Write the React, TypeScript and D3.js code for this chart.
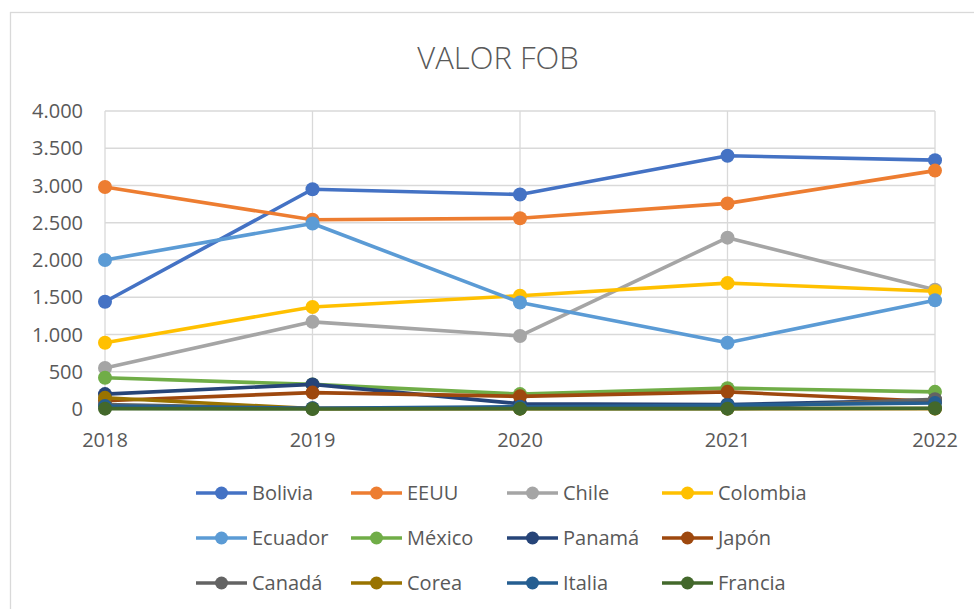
import * as d3 from "d3";
import { useEffect, useRef } from "react";

const years = ["2018", "2019", "2020", "2021", "2022"];
const yTicks = [0, 500, 1000, 1500, 2000, 2500, 3000, 3500, 4000];

const countries = [
  "Bolivia", "EEUU", "Chile", "Colombia",
  "Ecuador", "México", "Panamá", "Japón",
  "Canadá", "Corea", "Italia", "Francia",
];
const colors = [
  "#4472C4", "#ED7D31", "#A5A5A5", "#FFC000",
  "#5B9BD5", "#70AD47", "#264478", "#9E480E",
  "#636363", "#997300", "#255E91", "#43682B",
];

const bolivia = [1440, 2950, 2880, 3400, 3340];
const eeuu = [2980, 2540, 2560, 2760, 3200];
const chile = [550, 1170, 980, 2300, 1600];
const colombia = [890, 1370, 1520, 1690, 1580];
const ecuador = [2000, 2490, 1430, 890, 1460];
const mexico = [420, 330, 200, 280, 230];
const panama = [200, 330, 70, 60, 120];
const japon = [110, 220, 170, 230, 100];
const canada = [60, 10, 10, 20, 130];
const corea = [150, 5, 5, 5, 5];
const italia = [40, 10, 30, 50, 80];
const francia = [5, 0, 5, 5, 10];

const values = [bolivia, eeuu, chile, colombia, ecuador, mexico, panama, japon, canada, corea, italia, francia];

const width = 974;
const height = 609;
const plot = { left: 105, right: 935, top: 111, bottom: 409 };
const font = "'Open Sans', sans-serif";
const textColor = "#595959";

export default function App() {
  const ref = useRef<SVGSVGElement>(null);

  useEffect(() => {
    if (!ref.current) return;
    const svg = d3.select(ref.current);
    svg.selectAll("*").remove();

    const x = d3.scalePoint().domain(years).range([plot.left, plot.right]);
    const y = d3.scaleLinear().domain([0, 4000]).range([plot.bottom, plot.top]);
    const fmt = (v: number) => d3.format(",")(v).replace(",", ".");

    // chart frame
    svg.append("rect")
      .attr("x", 10.5).attr("y", 12.5)
      .attr("width", 1000).attr("height", 700)
      .attr("fill", "white").attr("stroke", "#d9d9d9").attr("stroke-width", 1.3);

    svg.append("text")
      .attr("x", 498).attr("y", 69)
      .attr("text-anchor", "middle")
      .attr("font-family", font).attr("font-weight", 300)
      .attr("font-size", 31).attr("fill", textColor)
      .text("VALOR FOB");

    // grid
    const grid = svg.append("g").attr("stroke", "#d9d9d9").attr("stroke-width", 1.3);
    grid.selectAll("line.h").data(yTicks).join("line")
      .attr("x1", plot.left).attr("x2", plot.right)
      .attr("y1", (d) => y(d)).attr("y2", (d) => y(d));
    grid.selectAll("line.v").data(years).join("line")
      .attr("x1", (d) => x(d)!).attr("x2", (d) => x(d)!)
      .attr("y1", plot.top).attr("y2", plot.bottom);

    svg.append("g").selectAll("text").data(yTicks).join("text")
      .attr("x", 83).attr("y", (d) => y(d))
      .attr("dy", "0.35em").attr("text-anchor", "end")
      .attr("font-family", font).attr("font-size", 20).attr("fill", textColor)
      .text((d) => fmt(d));

    svg.append("g").selectAll("text").data(years).join("text")
      .attr("x", (d) => x(d)!).attr("y", 440)
      .attr("dy", "0.35em").attr("text-anchor", "middle")
      .attr("font-family", font).attr("font-size", 20).attr("fill", textColor)
      .text((d) => d);

    const line = d3.line<number>()
      .x((_, i) => x(years[i])!)
      .y((d) => y(d));

    values.forEach((vals, k) => {
      const g = svg.append("g");
      g.append("path")
        .attr("d", line(vals))
        .attr("fill", "none")
        .attr("stroke", colors[k])
        .attr("stroke-width", 3.6)
        .attr("stroke-linejoin", "round");
      g.selectAll("circle").data(vals).join("circle")
        .attr("cx", (_, i) => x(years[i])!)
        .attr("cy", (d) => y(d))
        .attr("r", 7)
        .attr("fill", colors[k]);
    });

    // legend
    const colX = [196, 351, 507, 662];
    const rowY = [493, 538, 583];
    countries.forEach((name, k) => {
      const lx = colX[k % 4];
      const ly = rowY[Math.floor(k / 4)];
      const g = svg.append("g");
      g.append("line")
        .attr("x1", lx).attr("x2", lx + 51)
        .attr("y1", ly).attr("y2", ly)
        .attr("stroke", colors[k]).attr("stroke-width", 3.6);
      g.append("circle").attr("cx", lx + 25.5).attr("cy", ly).attr("r", 6.5).attr("fill", colors[k]);
      g.append("text")
        .attr("x", lx + 56).attr("y", ly)
        .attr("dy", "0.35em")
        .attr("font-family", font).attr("font-size", 20).attr("fill", textColor)
        .text(name);
    });
  }, []);

  return (
    <svg
      ref={ref}
      width={width}
      height={height}
      style={{ position: "absolute", left: 0, top: 0, background: "white" }}
    />
  );
}
